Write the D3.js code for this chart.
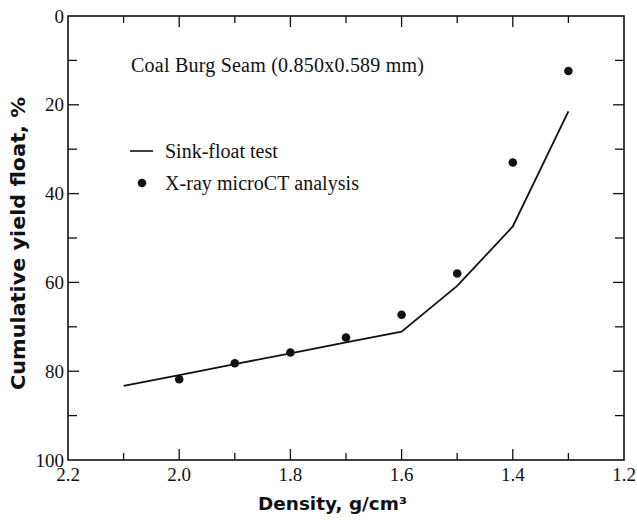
<!DOCTYPE html>
<html>
<head>
<meta charset="utf-8">
<script src="https://cdn.jsdelivr.net/npm/d3@7"></script>
<style>
  body { margin: 0; background: #fff; }
  .tick-label { font-family: "Liberation Serif", "Times New Roman", serif; font-size: 19px; fill: #111; }
  .note { font-family: "Liberation Serif", "Times New Roman", serif; font-size: 20px; fill: #111; }
  .axis-title { font-family: "DejaVu Sans", Arial, sans-serif; font-weight: bold; fill: #111; }
</style>
</head>
<body>
<svg id="chart" width="637" height="520"></svg>
<script>
// sink-float test curve
var lineDensity = [2.1, 2.0, 1.9, 1.8, 1.7, 1.6, 1.5, 1.4, 1.3];
var lineYield = [83.3, 80.9, 78.4, 76.0, 73.5, 71.1, 60.8, 47.4, 21.5];

// X-ray microCT points
var dotDensity = [2.0, 1.9, 1.8, 1.7, 1.6, 1.5, 1.4, 1.3];
var dotYield = [81.8, 78.2, 75.8, 72.4, 67.3, 58.0, 33.0, 12.4];

var xMajor = [2.2, 2.0, 1.8, 1.6, 1.4, 1.2];
var xMinor = [2.1, 1.9, 1.7, 1.5, 1.3];
var yMajor = [0, 20, 40, 60, 80, 100];
var yMinor = [10, 30, 50, 70, 90];

var plot = { left: 68, right: 624, top: 16, bottom: 460 };

var svg = d3.select('#chart');

var x = d3.scaleLinear().domain([2.2, 1.2]).range([plot.left, plot.right]);
var y = d3.scaleLinear().domain([0, 100]).range([plot.top, plot.bottom]);

// frame
svg.append('rect')
  .attr('x', plot.left)
  .attr('y', plot.top)
  .attr('width', plot.right - plot.left)
  .attr('height', plot.bottom - plot.top)
  .attr('fill', 'none')
  .attr('stroke', '#111')
  .attr('stroke-width', 1.6);

// inward ticks on all four sides
function ticks(vals, len) {
  var g = svg.append('g').attr('stroke', '#111').attr('stroke-width', 1.3);
  vals.forEach(function (v) {
    g.append('line').attr('x1', x(v)).attr('x2', x(v)).attr('y1', plot.bottom).attr('y2', plot.bottom - len);
    g.append('line').attr('x1', x(v)).attr('x2', x(v)).attr('y1', plot.top).attr('y2', plot.top + len);
  });
}
function yticks(vals, len) {
  var g = svg.append('g').attr('stroke', '#111').attr('stroke-width', 1.3);
  vals.forEach(function (v) {
    g.append('line').attr('y1', y(v)).attr('y2', y(v)).attr('x1', plot.left).attr('x2', plot.left + len);
    g.append('line').attr('y1', y(v)).attr('y2', y(v)).attr('x1', plot.right).attr('x2', plot.right - len);
  });
}
ticks(xMajor.slice(1, -1), 11);
ticks(xMinor, 7);
yticks(yMajor.slice(1, -1), 11);
yticks(yMinor, 9);

// tick labels
svg.selectAll('.xl').data(xMajor).enter().append('text')
  .attr('class', 'tick-label')
  .attr('x', function (d) { return x(d); })
  .attr('y', 481)
  .attr('text-anchor', 'middle')
  .text(function (d) { return d3.format('.1f')(d); });

svg.selectAll('.yl').data(yMajor).enter().append('text')
  .attr('class', 'tick-label')
  .attr('x', plot.left - 4)
  .attr('y', function (d) { return y(d) + 6.5; })
  .attr('text-anchor', 'end')
  .text(function (d) { return d; });

// sink-float line
var lineGen = d3.line()
  .x(function (d) { return x(d[0]); })
  .y(function (d) { return y(d[1]); });
svg.append('path')
  .datum(d3.zip(lineDensity, lineYield))
  .attr('d', lineGen)
  .attr('fill', 'none')
  .attr('stroke', '#111')
  .attr('stroke-width', 1.8);

// microCT dots
svg.selectAll('.dot').data(d3.zip(dotDensity, dotYield)).enter().append('circle')
  .attr('cx', function (d) { return x(d[0]); })
  .attr('cy', function (d) { return y(d[1]); })
  .attr('r', 4.3)
  .attr('fill', '#111');

// annotation and legend
svg.append('text')
  .attr('class', 'note')
  .attr('x', 131).attr('y', 72)
  .attr('textLength', 293)
  .text('Coal Burg Seam (0.850x0.589 mm)');

svg.append('line')
  .attr('x1', 130).attr('x2', 153).attr('y1', 151).attr('y2', 151)
  .attr('stroke', '#111').attr('stroke-width', 1.6);
svg.append('text')
  .attr('class', 'note')
  .attr('x', 165).attr('y', 158)
  .text('Sink-float test');

svg.append('circle')
  .attr('cx', 142).attr('cy', 183).attr('r', 4.3).attr('fill', '#111');
svg.append('text')
  .attr('class', 'note')
  .attr('x', 165).attr('y', 190)
  .attr('textLength', 194)
  .text('X-ray microCT analysis');

// axis titles
svg.append('text')
  .attr('class', 'axis-title')
  .attr('x', 258).attr('y', 510)
  .style('font-size', '17.5px')
  .attr('textLength', 149)
  .attr('lengthAdjust', 'spacingAndGlyphs')
  .text('Density, g/cm³');

svg.append('text')
  .attr('class', 'axis-title')
  .attr('transform', 'translate(25,390) rotate(-90)')
  .style('font-size', '20px')
  .attr('textLength', 293)
  .attr('lengthAdjust', 'spacingAndGlyphs')
  .text('Cumulative yield float, %');
</script>
</body>
</html>
